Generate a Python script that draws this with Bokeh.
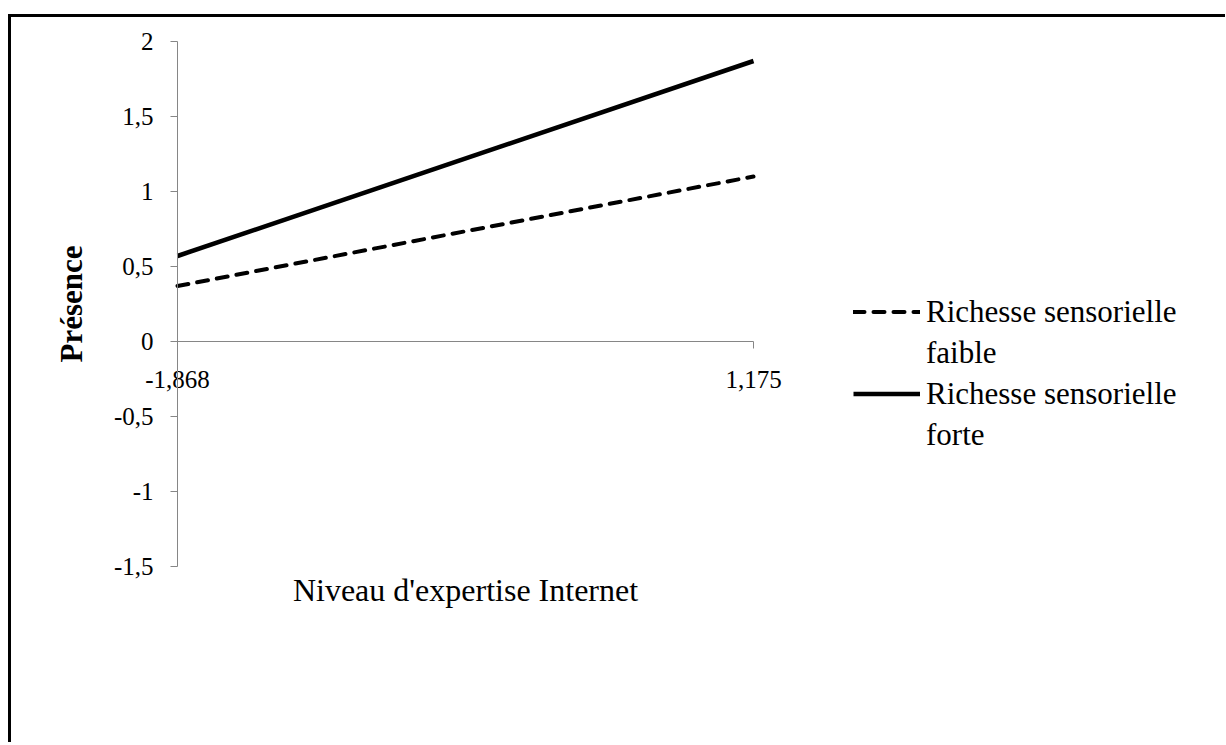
from bokeh.plotting import figure
from bokeh.models import LinearAxis, FixedTicker, Legend, LegendItem, ColumnDataSource
from bokeh.embed import file_html
from bokeh.resources import INLINE

# ---- data ----
categories = ["-1,868", "1,175"]
faible = [0.37, 1.10]
forte = [0.57, 1.87]
y_ticks = [-1.5, -1, -0.5, 0, 0.5, 1, 1.5, 2]
y_tick_labels = ["-1,5", "-1", "-0,5", "0", "0,5", "1", "1,5", "2"]

x_pos = list(range(len(categories)))
FONT = "Liberation Serif"
AXIS_GRAY = "#868686"

# ---- layout (pixels) ----
PX_X = 576.0      # pixels per category step
PX_Y = 150.0      # pixels per y unit
PAD_L, PAD_R = 147, 460   # frame room around the category span
PAD_T, PAD_B = 21, 54     # frame room around the y span
FRAME_W = int(PX_X * (x_pos[-1] - x_pos[0]) + PAD_L + PAD_R)
FRAME_H = int(PX_Y * (y_ticks[-1] - y_ticks[0]) + PAD_T + PAD_B)

x0 = x_pos[0] - PAD_L / PX_X
x1 = x_pos[-1] + PAD_R / PX_X
y0 = y_ticks[0] - PAD_B / PX_Y
y1 = y_ticks[-1] + PAD_T / PX_Y

MB_L, MB_T = 19, 3
W, H = 1214, 725

p = figure(frame_width=FRAME_W, frame_height=FRAME_H,
           x_range=(x0, x1), y_range=(y0, y1),
           x_axis_type=None, y_axis_type=None,
           output_backend="svg", toolbar_location=None,
           min_border_left=MB_L, min_border_top=MB_T,
           min_border_right=W - MB_L - FRAME_W, min_border_bottom=H - MB_T - FRAME_H)
p.outline_line_color = None
p.grid.visible = False
p.styles = {"border-top": "3px solid black", "border-left": "3px solid black",
            "margin-top": "14px", "margin-left": "8px"}

# y axis crossing at x = first category
ya = LinearAxis(fixed_location=x_pos[0], bounds=(y_ticks[0], y_ticks[-1]),
                ticker=FixedTicker(ticks=y_ticks),
                major_label_overrides=dict(zip(y_ticks, y_tick_labels)),
                axis_line_color=AXIS_GRAY, major_tick_line_color=AXIS_GRAY,
                minor_tick_line_color=None, major_tick_in=0, major_tick_out=7,
                major_label_text_font=FONT, major_label_text_font_size="25px",
                major_label_text_color="black", major_label_standoff=17,
                axis_label="Présence", axis_label_text_font=FONT,
                axis_label_text_font_style="bold", axis_label_text_font_size="31px",
                axis_label_text_color="black", axis_label_standoff=22)
p.add_layout(ya, "left")

# category axis crossing at y = 0
xa = LinearAxis(fixed_location=0, bounds=(x_pos[0], x_pos[-1]),
                ticker=FixedTicker(ticks=x_pos),
                major_label_overrides=dict(zip(x_pos, categories)),
                axis_line_color=AXIS_GRAY, major_tick_line_color=AXIS_GRAY,
                minor_tick_line_color=None, major_tick_in=0, major_tick_out=7,
                major_label_text_font=FONT, major_label_text_font_size="25px",
                major_label_text_color="black", major_label_standoff=22)
p.add_layout(xa, "below")

# axis title under the plot area
xt = LinearAxis(fixed_location=y_ticks[0], bounds=(x_pos[0], x_pos[-1]),
                ticker=FixedTicker(ticks=[]), axis_label="Niveau d'expertise Internet",
                axis_line_color=None, major_tick_line_color=None, minor_tick_line_color=None,
                major_tick_out=0, major_tick_in=0,
                axis_label_text_font=FONT, axis_label_text_font_size="32px",
                axis_label_text_font_style="normal", axis_label_text_color="black",
                axis_label_standoff=5)
p.add_layout(xt, "below")

src = ColumnDataSource(dict(x=x_pos, faible=faible, forte=forte))
r1 = p.line("x", "faible", source=src, line_color="black", line_width=4,
            line_dash="11 9", line_cap="round")
r2 = p.line("x", "forte", source=src, line_color="black", line_width=4.5)
blank = p.line("x", "forte", source=src, line_alpha=0)

LEG_X = PAD_L + 676          # glyph start, from frame left
LEG_Y = FRAME_H - 273 - 160  # legend bottom, from frame bottom

legend = Legend(items=[
    LegendItem(label="Richesse sensorielle", renderers=[r1]),
    LegendItem(label="faible", renderers=[blank]),
    LegendItem(label="Richesse sensorielle", renderers=[r2]),
    LegendItem(label="forte", renderers=[blank]),
], location=(LEG_X, LEG_Y), padding=0, margin=0, spacing=4,
    glyph_width=67, glyph_height=37, label_height=37, label_standoff=6,
    label_text_font=FONT, label_text_font_size="31px", label_text_color="black",
    border_line_color=None, background_fill_alpha=0)
p.add_layout(legend, "center")

open("out.html", "w").write(file_html(p, INLINE))
